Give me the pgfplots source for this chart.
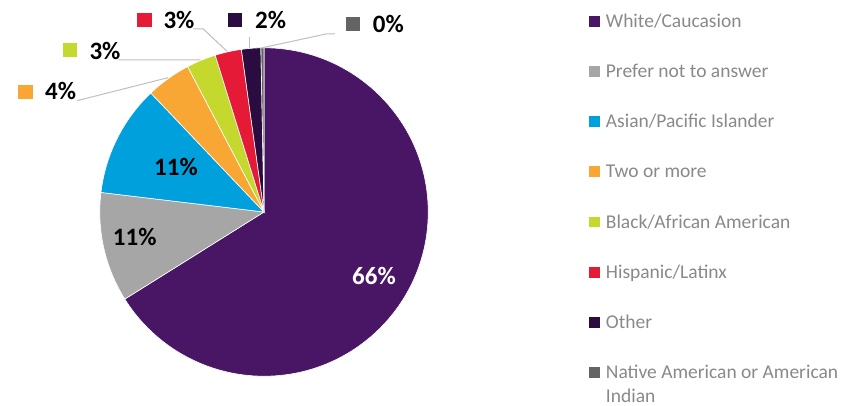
\documentclass[border=0pt]{standalone}
\usepackage{pgfplots}
\usepackage{pgfplotstable}
\pgfplotsset{compat=1.18}
\usepackage{fontspec}
\setmainfont{Carlito}
\definecolor{c0}{RGB}{72,22,101}
\definecolor{c1}{RGB}{166,166,166}
\definecolor{c2}{RGB}{0,160,220}
\definecolor{c3}{RGB}{248,166,52}
\definecolor{c4}{RGB}{196,216,46}
\definecolor{c5}{RGB}{228,26,55}
\definecolor{c6}{RGB}{42,12,64}
\definecolor{c7}{RGB}{100,100,100}
\definecolor{legtext}{RGB}{137,137,137}
\definecolor{leader}{RGB}{191,191,191}
\pgfplotstableread{
value
66.1
10.8
11.0
4.4
2.9
2.6
1.9
0.3
}\piedata
\begin{document}
\begin{tikzpicture}
\begin{axis}[width=860pt,height=406pt,scale only axis,
  xmin=0,xmax=860,ymin=0,ymax=406,y dir=reverse,hide axis,clip=false]
\pgfplotsextra{
  \pgfplotstablegetrowsof{\piedata}
  \pgfmathtruncatemacro\N{\pgfplotsretval-1}
  \xdef\cum{0}
  \foreach \i in {0,...,\N}{
    \pgfplotstablegetelem{\i}{value}\of{\piedata}
    \let\v\pgfplotsretval
    \pgfmathsetmacro\sa{90-3.6*\cum}
    \pgfmathsetmacro\ea{90-3.6*(\cum+\v)}
    \pgfmathsetmacro\newcum{\cum+\v}
    \xdef\cum{\newcum}
    \fill[c\i,draw=white,line width=0.6pt] (axis cs:264,212) -- ++(\sa:164.2pt)
      arc[start angle=\sa,end angle=\ea,radius=164.2pt] -- cycle;
  }
}
% inner labels
\node[anchor=base,inner sep=0,text=white,font=\bfseries\fontsize{25}{30}\selectfont] at (axis cs:374,285) {66\%};
\node[anchor=base,inner sep=0,font=\bfseries\fontsize{25}{30}\selectfont] at (axis cs:176,175.7) {11\%};
\node[anchor=base,inner sep=0,font=\bfseries\fontsize{25}{30}\selectfont] at (axis cs:134.7,245.7) {11\%};
% leader lines
\draw[leader,line width=1pt] (axis cs:77,100.7) -- (axis cs:168,77.7);
\draw[leader,line width=1pt] (axis cs:118.7,60) -- (axis cs:200.7,59.8);
\draw[leader,line width=1pt] (axis cs:193.3,29) -- (axis cs:203.3,29) -- (axis cs:226.7,51);
\draw[leader,line width=1pt] (axis cs:249.3,36.7) -- (axis cs:249.3,47.8);
\draw[leader,line width=1pt] (axis cs:335,34) -- (axis cs:326,34) -- (axis cs:261,48);
% outer labels
\fill[c3] (axis cs:18.3,85) rectangle (axis cs:32.7,99);
\node[anchor=base west,inner sep=0,font=\bfseries\fontsize{25}{30}\selectfont] at (axis cs:45,100) {4\%};
\fill[c4] (axis cs:62.7,43.3) rectangle (axis cs:76.7,57.3);
\node[anchor=base west,inner sep=0,font=\bfseries\fontsize{25}{30}\selectfont] at (axis cs:89.3,59.3) {3\%};
\fill[c5] (axis cs:137.3,13.3) rectangle (axis cs:151.7,27.3);
\node[anchor=base west,inner sep=0,font=\bfseries\fontsize{25}{30}\selectfont] at (axis cs:163.3,29) {3\%};
\fill[c6] (axis cs:227.7,13.3) rectangle (axis cs:241.7,27.3);
\node[anchor=base west,inner sep=0,font=\bfseries\fontsize{25}{30}\selectfont] at (axis cs:255,29) {2\%};
\fill[c7] (axis cs:346,17) rectangle (axis cs:360,31);
\node[anchor=base west,inner sep=0,font=\bfseries\fontsize{25}{30}\selectfont] at (axis cs:372.7,32.3) {0\%};
% legend
\fill[c0] (axis cs:589,15.9) rectangle (axis cs:600,26.7);
\node[anchor=base west,inner sep=0,text=legtext,font=\fontsize{19.5}{24}\selectfont] at (axis cs:605.7,27.3) {White/Caucasion};
\fill[c1] (axis cs:589,66.1) rectangle (axis cs:600,76.9);
\node[anchor=base west,inner sep=0,text=legtext,font=\fontsize{19.5}{24}\selectfont] at (axis cs:605.7,77.5) {Prefer not to answer};
\fill[c2] (axis cs:589,116.3) rectangle (axis cs:600,127.1);
\node[anchor=base west,inner sep=0,text=legtext,font=\fontsize{19.5}{24}\selectfont] at (axis cs:605.7,127.7) {Asian/Pacific Islander};
\fill[c3] (axis cs:589,166.5) rectangle (axis cs:600,177.3);
\node[anchor=base west,inner sep=0,text=legtext,font=\fontsize{19.5}{24}\selectfont] at (axis cs:605.7,177.9) {Two or more};
\fill[c4] (axis cs:589,216.7) rectangle (axis cs:600,227.5);
\node[anchor=base west,inner sep=0,text=legtext,font=\fontsize{19.5}{24}\selectfont] at (axis cs:605.7,228.1) {Black/African American};
\fill[c5] (axis cs:589,266.9) rectangle (axis cs:600,277.7);
\node[anchor=base west,inner sep=0,text=legtext,font=\fontsize{19.5}{24}\selectfont] at (axis cs:605.7,278.3) {Hispanic/Latinx};
\fill[c6] (axis cs:589,317.1) rectangle (axis cs:600,327.9);
\node[anchor=base west,inner sep=0,text=legtext,font=\fontsize{19.5}{24}\selectfont] at (axis cs:605.7,328.5) {Other};
\fill[c7] (axis cs:589,367.3) rectangle (axis cs:600,378.1);
\node[anchor=base west,inner sep=0,text=legtext,font=\fontsize{19.5}{24}\selectfont] at (axis cs:605.7,378.7) {Native American or American};
\node[anchor=base west,inner sep=0,text=legtext,font=\fontsize{19.5}{24}\selectfont] at (axis cs:605.7,402.7) {Indian};
\end{axis}
\pgfresetboundingbox
\path[use as bounding box] (current axis.south west) rectangle (current axis.north east);
\end{tikzpicture}
\end{document}
